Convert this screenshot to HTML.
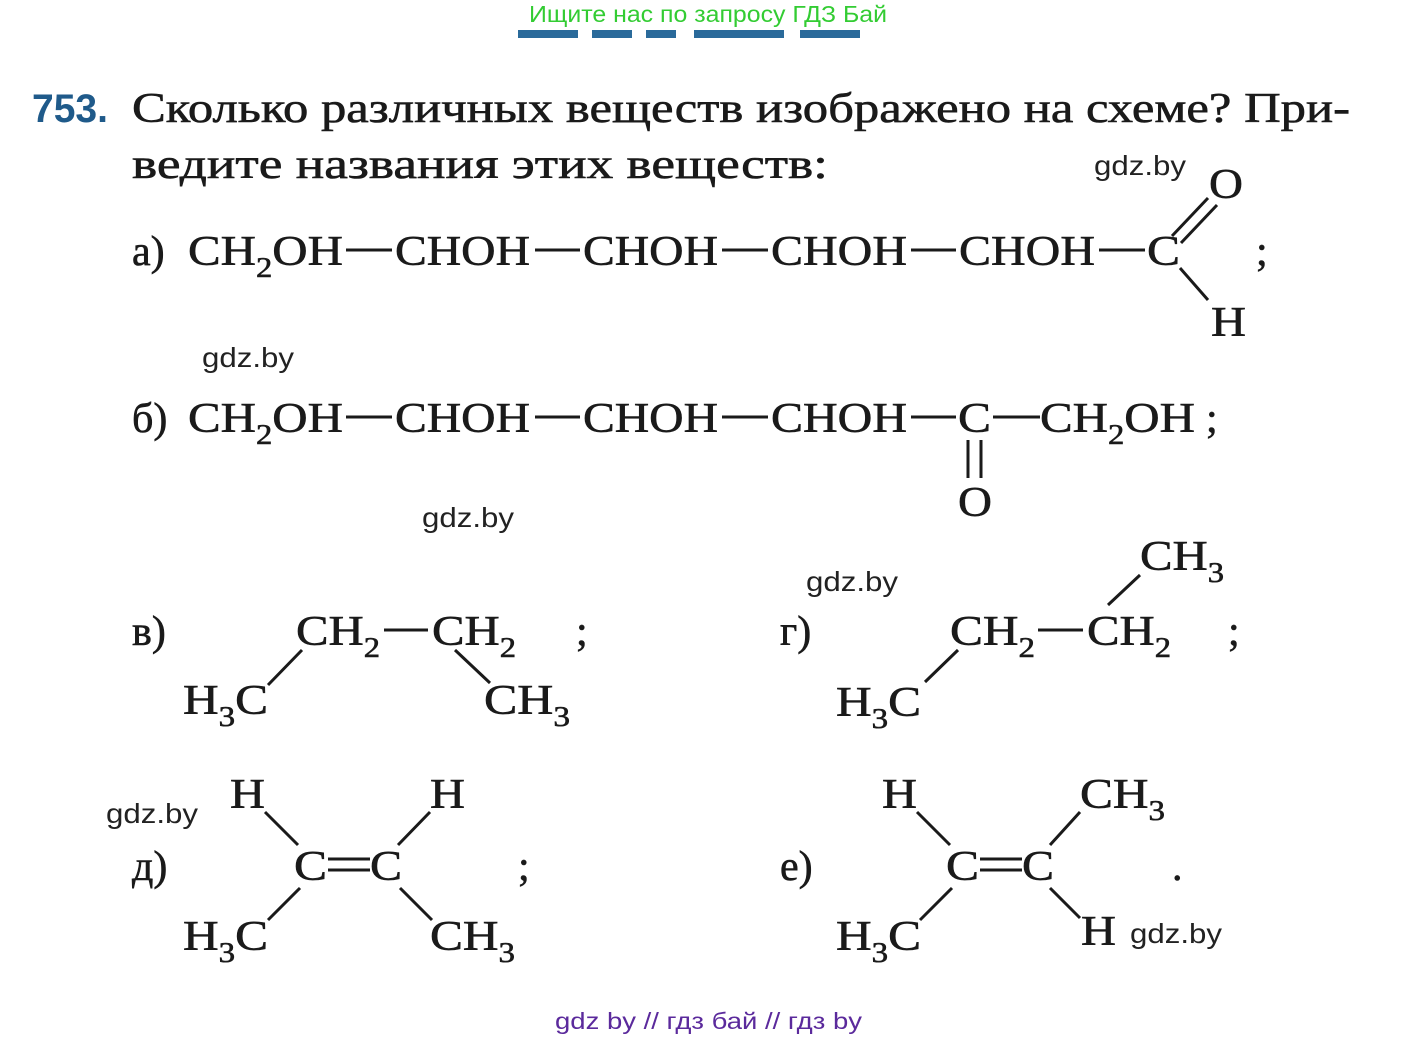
<!DOCTYPE html>
<html><head><meta charset="utf-8"><style>
html,body{margin:0;padding:0;background:#fff;}
svg{display:block}
.s{font-family:"Liberation Serif",serif;font-size:42px;fill:#1a1a1a;stroke:#1a1a1a;stroke-width:0.6}
.b{font-size:28px}
.w{font-family:"Liberation Sans",sans-serif;font-size:28px;fill:#222}
</style></head><body>
<svg width="1419" height="1038" viewBox="0 0 1419 1038" xmlns="http://www.w3.org/2000/svg">
<g fill="#2a6a9a">
<rect x="518" y="30" width="60" height="8"/><rect x="592" y="30" width="40" height="8"/><rect x="646" y="30" width="30" height="8"/><rect x="694" y="30" width="90" height="8"/><rect x="800" y="30" width="60" height="8"/>
</g>
<text x="708" y="22" text-anchor="middle" style="font-family:'Liberation Sans',sans-serif;font-size:23px;fill:#33cc33" textLength="358" lengthAdjust="spacingAndGlyphs">Ищите нас по запросу ГДЗ Бай</text>
<text x="32" y="122" style="font-family:'Liberation Sans',sans-serif;font-weight:bold;font-size:40px;fill:#1f5a8a" textLength="76" lengthAdjust="spacingAndGlyphs">753.</text>
<text class="s" x="132" y="122" textLength="1218" lengthAdjust="spacingAndGlyphs">Сколько различных веществ изображено на схеме? При-</text>
<text class="s" x="132" y="178" textLength="696" lengthAdjust="spacingAndGlyphs">ведите названия этих веществ:</text>

<g stroke="#1a1a1a" stroke-width="3" fill="none">
<line x1="346" y1="250" x2="392" y2="250"/><line x1="535" y1="250" x2="580" y2="250"/><line x1="722" y1="250" x2="768" y2="250"/><line x1="911" y1="250" x2="956" y2="250"/><line x1="1099" y1="250" x2="1145" y2="250"/>
<line x1="1172" y1="236" x2="1208" y2="198"/><line x1="1181" y1="243" x2="1217" y2="205"/>
<line x1="1180" y1="268" x2="1208" y2="300"/>
<line x1="346" y1="417" x2="392" y2="417"/><line x1="535" y1="417" x2="580" y2="417"/><line x1="722" y1="417" x2="768" y2="417"/><line x1="911" y1="417" x2="956" y2="417"/><line x1="993" y1="417" x2="1040" y2="417"/>
<line x1="968" y1="440" x2="968" y2="478"/><line x1="981" y1="440" x2="981" y2="478"/>
<line x1="384" y1="630" x2="428" y2="630"/><line x1="268" y1="685" x2="302" y2="650"/><line x1="455" y1="650" x2="490" y2="683"/>
<line x1="1038" y1="630" x2="1083" y2="630"/><line x1="1108" y1="605" x2="1140" y2="575"/><line x1="925" y1="682" x2="958" y2="650"/>
<line x1="265" y1="812" x2="298" y2="845"/><line x1="430" y1="812" x2="398" y2="845"/><line x1="268" y1="920" x2="300" y2="888"/><line x1="400" y1="888" x2="432" y2="920"/>
<line x1="328" y1="859" x2="370" y2="859"/><line x1="328" y1="870" x2="370" y2="870"/>
<line x1="917" y1="812" x2="950" y2="845"/><line x1="1080" y1="812" x2="1050" y2="845"/><line x1="920" y1="920" x2="952" y2="888"/><line x1="1050" y1="888" x2="1080" y2="918"/>
<line x1="980" y1="859" x2="1022" y2="859"/><line x1="980" y1="870" x2="1022" y2="870"/>
</g>

<text class="s" x="132" y="265">а)</text>
<text class="s" x="188" y="265" textLength="155" lengthAdjust="spacingAndGlyphs">CH<tspan class="b" dy="12">2</tspan><tspan dy="-12">OH</tspan></text>
<text class="s" x="395" y="265" textLength="135" lengthAdjust="spacingAndGlyphs">CHOH</text>
<text class="s" x="583" y="265" textLength="135" lengthAdjust="spacingAndGlyphs">CHOH</text>
<text class="s" x="771" y="265" textLength="136" lengthAdjust="spacingAndGlyphs">CHOH</text>
<text class="s" x="959" y="265" textLength="136" lengthAdjust="spacingAndGlyphs">CHOH</text>
<text class="s" x="1147" y="265" textLength="33" lengthAdjust="spacingAndGlyphs">C</text>
<text class="s" x="1209" y="198" textLength="34" lengthAdjust="spacingAndGlyphs">O</text>
<text class="s" x="1211" y="336" textLength="35" lengthAdjust="spacingAndGlyphs">H</text>
<text class="s" x="1256" y="265">;</text>
<text class="s" x="132" y="432">б)</text>
<text class="s" x="188" y="432" textLength="155" lengthAdjust="spacingAndGlyphs">CH<tspan class="b" dy="12">2</tspan><tspan dy="-12">OH</tspan></text>
<text class="s" x="395" y="432" textLength="135" lengthAdjust="spacingAndGlyphs">CHOH</text>
<text class="s" x="583" y="432" textLength="135" lengthAdjust="spacingAndGlyphs">CHOH</text>
<text class="s" x="771" y="432" textLength="136" lengthAdjust="spacingAndGlyphs">CHOH</text>
<text class="s" x="958" y="432" textLength="33" lengthAdjust="spacingAndGlyphs">C</text>
<text class="s" x="1040" y="432" textLength="155" lengthAdjust="spacingAndGlyphs">CH<tspan class="b" dy="12">2</tspan><tspan dy="-12">OH</tspan></text>
<text class="s" x="1206" y="432">;</text>
<text class="s" x="958" y="516" textLength="34" lengthAdjust="spacingAndGlyphs">O</text>
<text class="s" x="132" y="645">в)</text>
<text class="s" x="296" y="645" textLength="84" lengthAdjust="spacingAndGlyphs">CH<tspan class="b" dy="12">2</tspan></text>
<text class="s" x="432" y="645" textLength="84" lengthAdjust="spacingAndGlyphs">CH<tspan class="b" dy="12">2</tspan></text>
<text class="s" x="183" y="714" textLength="85" lengthAdjust="spacingAndGlyphs">H<tspan class="b" dy="12">3</tspan><tspan dy="-12">C</tspan></text>
<text class="s" x="484" y="714" textLength="86" lengthAdjust="spacingAndGlyphs">CH<tspan class="b" dy="12">3</tspan></text>
<text class="s" x="576" y="645">;</text>
<text class="s" x="780" y="645">г)</text>
<text class="s" x="950" y="645" textLength="85" lengthAdjust="spacingAndGlyphs">CH<tspan class="b" dy="12">2</tspan></text>
<text class="s" x="1087" y="645" textLength="84" lengthAdjust="spacingAndGlyphs">CH<tspan class="b" dy="12">2</tspan></text>
<text class="s" x="1140" y="570" textLength="84" lengthAdjust="spacingAndGlyphs">CH<tspan class="b" dy="12">3</tspan></text>
<text class="s" x="836" y="716" textLength="85" lengthAdjust="spacingAndGlyphs">H<tspan class="b" dy="12">3</tspan><tspan dy="-12">C</tspan></text>
<text class="s" x="1228" y="645">;</text>
<text class="s" x="132" y="880">д)</text>
<text class="s" x="230" y="808" textLength="35" lengthAdjust="spacingAndGlyphs">H</text>
<text class="s" x="430" y="808" textLength="35" lengthAdjust="spacingAndGlyphs">H</text>
<text class="s" x="294" y="880" textLength="33" lengthAdjust="spacingAndGlyphs">C</text>
<text class="s" x="370" y="880" textLength="32" lengthAdjust="spacingAndGlyphs">C</text>
<text class="s" x="183" y="950" textLength="85" lengthAdjust="spacingAndGlyphs">H<tspan class="b" dy="12">3</tspan><tspan dy="-12">C</tspan></text>
<text class="s" x="430" y="950" textLength="85" lengthAdjust="spacingAndGlyphs">CH<tspan class="b" dy="12">3</tspan></text>
<text class="s" x="518" y="880">;</text>
<text class="s" x="780" y="880">е)</text>
<text class="s" x="882" y="808" textLength="35" lengthAdjust="spacingAndGlyphs">H</text>
<text class="s" x="1080" y="808" textLength="85" lengthAdjust="spacingAndGlyphs">CH<tspan class="b" dy="12">3</tspan></text>
<text class="s" x="946" y="880" textLength="33" lengthAdjust="spacingAndGlyphs">C</text>
<text class="s" x="1022" y="880" textLength="32" lengthAdjust="spacingAndGlyphs">C</text>
<text class="s" x="836" y="950" textLength="85" lengthAdjust="spacingAndGlyphs">H<tspan class="b" dy="12">3</tspan><tspan dy="-12">C</tspan></text>
<text class="s" x="1081" y="945" textLength="35" lengthAdjust="spacingAndGlyphs">H</text>
<text class="s" x="1172" y="880">.</text>

<text class="w" x="1094" y="175" textLength="92" lengthAdjust="spacingAndGlyphs">gdz.by</text>
<text class="w" x="202" y="367" textLength="92" lengthAdjust="spacingAndGlyphs">gdz.by</text>
<text class="w" x="422" y="527" textLength="92" lengthAdjust="spacingAndGlyphs">gdz.by</text>
<text class="w" x="806" y="591" textLength="92" lengthAdjust="spacingAndGlyphs">gdz.by</text>
<text class="w" x="106" y="823" textLength="92" lengthAdjust="spacingAndGlyphs">gdz.by</text>
<text class="w" x="1130" y="943" textLength="92" lengthAdjust="spacingAndGlyphs">gdz.by</text>
<text x="555" y="1029" style="font-family:'Liberation Sans',sans-serif;font-size:23px;fill:#5b2a9c" textLength="307" lengthAdjust="spacingAndGlyphs">gdz by  //  гдз бай  //  гдз by</text>
</svg>
</body></html>
